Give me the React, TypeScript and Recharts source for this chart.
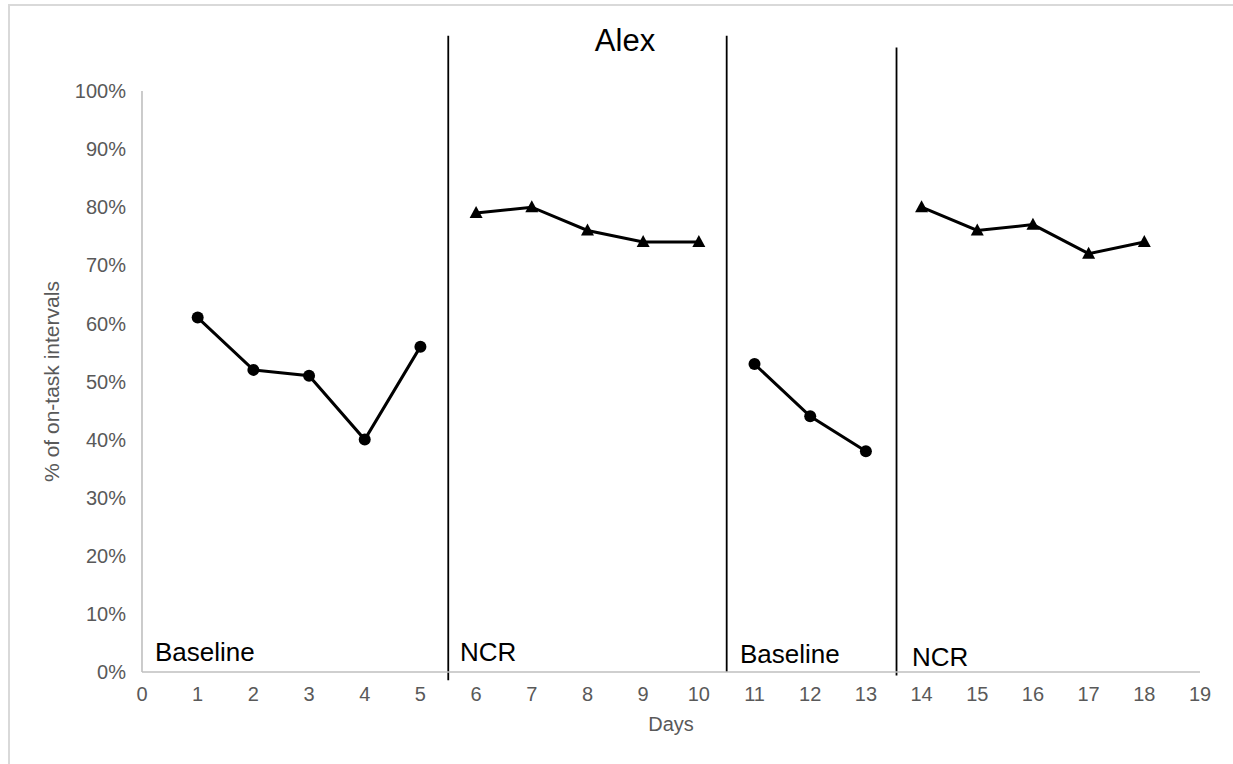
import { ComposedChart, Line, XAxis, YAxis, ReferenceLine } from 'recharts';

// Days and % of on-task intervals, one pair of arrays per phase
const baseline1Days = [1, 2, 3, 4, 5];
const baseline1Pct = [61, 52, 51, 40, 56];
const ncr1Days = [6, 7, 8, 9, 10];
const ncr1Pct = [79, 80, 76, 74, 74];
const baseline2Days = [11, 12, 13];
const baseline2Pct = [53, 44, 38];
const ncr2Days = [14, 15, 16, 17, 18];
const ncr2Pct = [80, 76, 77, 72, 74];

// Phase change lines (day position, bottom and top in % units)
const phaseChangeDay = [5.5, 10.5, 13.55];
const phaseChangeBottom = [-1.4, 0, -0.6];
const phaseChangeTop = [109.5, 109.5, 107.5];

const xTicks = Array.from({ length: 20 }, (_, i) => i);
const yTicks = [0, 10, 20, 30, 40, 50, 60, 70, 80, 90, 100];

const FONT = '"Liberation Sans", Arial, Helvetica, sans-serif';
const AXIS_GREY = '#bfbfbf';
const TEXT_GREY = '#595959';

const toPoints = (days: number[], pct: number[]) => days.map((day, i) => ({ day, pct: pct[i] }));

const phases = [
  { key: 'baseline1', data: toPoints(baseline1Days, baseline1Pct), marker: 'circle' },
  { key: 'ncr1', data: toPoints(ncr1Days, ncr1Pct), marker: 'triangle' },
  { key: 'baseline2', data: toPoints(baseline2Days, baseline2Pct), marker: 'circle' },
  { key: 'ncr2', data: toPoints(ncr2Days, ncr2Pct), marker: 'triangle' },
];

function CircleDot(props: any) {
  const { cx, cy } = props;
  if (cx == null || cy == null) return null;
  return <circle cx={cx} cy={cy} r={6} fill="#000" />;
}

function TriangleDot(props: any) {
  const { cx, cy } = props;
  if (cx == null || cy == null) return null;
  return <polygon points={`${cx},${cy - 7} ${cx - 6.5},${cy + 5} ${cx + 6.5},${cy + 5}`} fill="#000" />;
}

const phaseLabelStyle = { fontFamily: FONT, fontSize: 26, fill: '#000' };

export default function App() {
  return (
    <div style={{ position: 'fixed', left: 0, top: 0, width: 1233, height: 764, background: '#fff' }}>
      <div
        style={{
          position: 'absolute',
          left: 8,
          top: 4,
          width: 1240,
          height: 780,
          borderTop: '2px solid #d9d9d9',
          borderLeft: '2px solid #d9d9d9',
          boxSizing: 'border-box',
        }}
      />
      <div style={{ position: 'absolute', left: 0, top: 0 }}>
        <ComposedChart width={1233} height={764} margin={{ top: 91, right: 33, bottom: 62, left: 0 }}>
          <XAxis
            type="number"
            dataKey="day"
            domain={[0, 19]}
            ticks={xTicks}
            interval={0}
            height={30}
            axisLine={{ stroke: AXIS_GREY, strokeWidth: 1.6 }}
            tickLine={false}
            tickSize={0}
            tickMargin={15}
            tick={{ fill: TEXT_GREY, fontSize: 20, fontFamily: FONT }}
            label={{
              value: 'Days',
              position: 'bottom',
              offset: 15,
              style: { fill: TEXT_GREY, fontSize: 20, fontFamily: FONT },
            }}
          />
          <YAxis
            type="number"
            dataKey="pct"
            domain={[0, 100]}
            ticks={yTicks}
            interval={0}
            width={142}
            axisLine={{ stroke: AXIS_GREY, strokeWidth: 1.6 }}
            tickLine={false}
            tickSize={0}
            tickMargin={16}
            tickFormatter={(v: number) => `${v}%`}
            tick={{ fill: TEXT_GREY, fontSize: 20, fontFamily: FONT }}
            label={{
              value: '% of on-task intervals',
              angle: -90,
              position: 'insideLeft',
              offset: 52,
              style: { fill: TEXT_GREY, fontSize: 21, fontFamily: FONT, textAnchor: 'middle' },
            }}
          />
          {phaseChangeDay.map((day, i) => (
            <ReferenceLine
              key={`phase-${i}`}
              segment={[
                { x: day, y: phaseChangeBottom[i] },
                { x: day, y: phaseChangeTop[i] },
              ]}
              ifOverflow="visible"
              stroke="#000"
              strokeWidth={1.8}
            />
          ))}
          {phases.map((p) => (
            <Line
              key={p.key}
              data={p.data}
              dataKey="pct"
              type="linear"
              stroke="#000"
              strokeWidth={3}
              dot={p.marker === 'circle' ? <CircleDot /> : <TriangleDot />}
              activeDot={false}
              isAnimationActive={false}
            />
          ))}
          <text x={625} y={51} textAnchor="middle" style={{ fontFamily: FONT, fontSize: 31, fill: '#000' }}>
            Alex
          </text>
          <text x={155} y={661} style={phaseLabelStyle}>Baseline</text>
          <text x={460} y={661} style={phaseLabelStyle}>NCR</text>
          <text x={740} y={663} style={phaseLabelStyle}>Baseline</text>
          <text x={912} y={666} style={phaseLabelStyle}>NCR</text>
        </ComposedChart>
      </div>
    </div>
  );
}
